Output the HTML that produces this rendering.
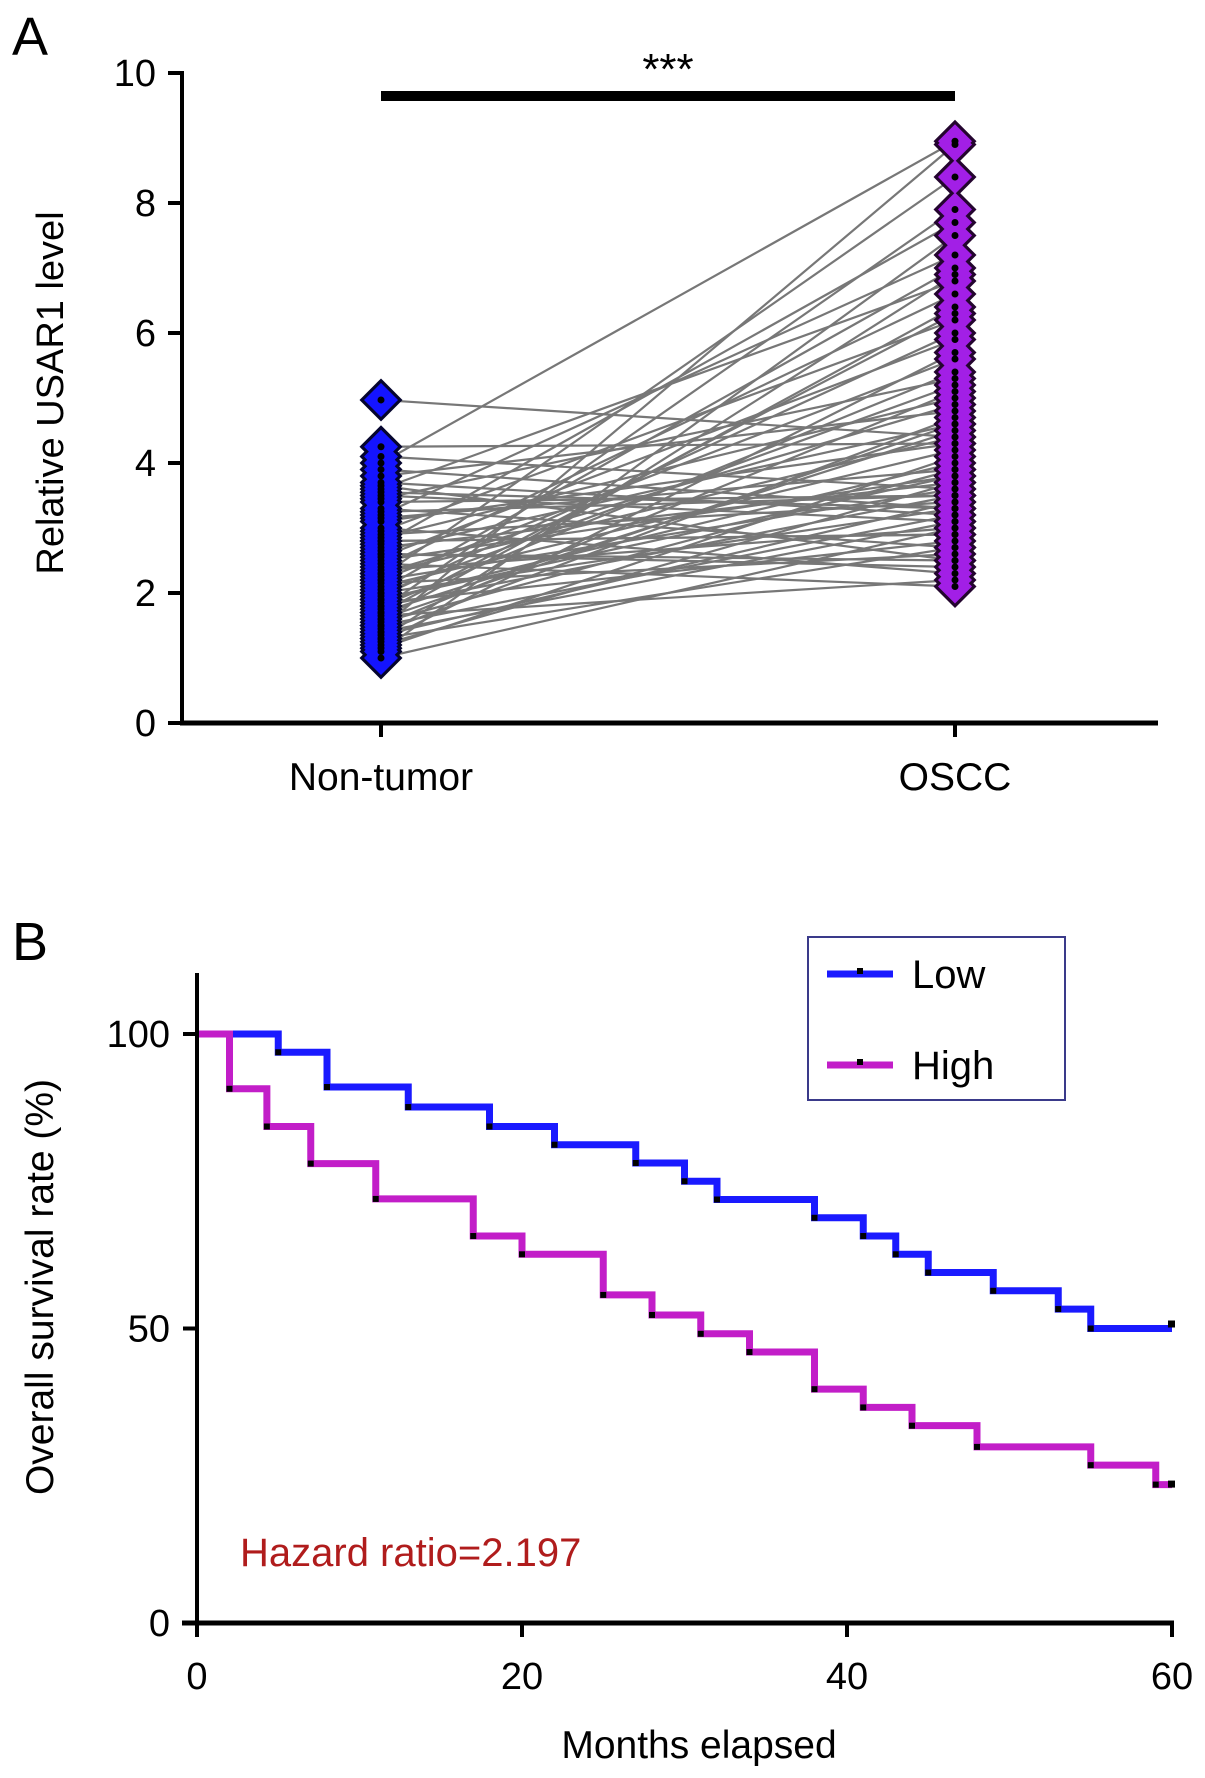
<!DOCTYPE html>
<html><head><meta charset="utf-8"><style>
html,body{margin:0;padding:0;background:#fff;}
svg{display:block;font-family:"Liberation Sans",sans-serif;}
</style></head><body>
<svg id="fig" width="1205" height="1778" viewBox="0 0 1205 1778" xmlns="http://www.w3.org/2000/svg">
<rect width="1205" height="1778" fill="#fff"/>
<g id="panelA"></g>
<g id="panelB"></g>
</svg>
<script>
// ---------- Panel A data ----------
const categoriesA = ["Non-tumor", "OSCC"];
const yTicksA = [0, 2, 4, 6, 8, 10];
const nonTumor = [4.97,4.25,4.1,4.0,3.9,3.8,3.7,3.65,3.6,3.5,3.45,3.4,3.3,3.2,3.15,3.1,3.0,2.95,2.9,2.85,2.8,2.75,2.7,2.65,2.6,2.55,2.5,2.45,2.4,2.35,2.3,2.25,2.2,2.2,2.15,2.1,2.05,2.0,1.95,1.9,1.85,1.8,1.8,1.75,1.7,1.65,1.6,1.55,1.5,1.5,1.45,1.4,1.35,1.3,1.3,1.25,1.2,1.15,1.1,1.0,3.55,2.6,2.3,1.9,1.7,2.8,3.25,2.0,1.6,1.4];
const oscc = [4.4,4.3,3.6,8.95,3.3,4.8,3.2,2.5,6.8,3.1,5.3,3.5,2.7,7.2,3.9,4.3,2.3,6.2,3.4,5.0,2.9,7.7,3.7,4.6,2.4,5.9,3.8,2.1,6.6,3.0,4.9,8.4,3.6,5.6,2.6,4.2,7.0,3.3,6.0,4.0,2.8,5.4,3.5,7.9,4.5,2.2,6.4,3.9,5.1,3.2,8.9,4.7,3.4,6.9,2.7,5.7,3.7,4.1,7.5,3.0,3.3,2.5,4.4,3.8,6.3,2.9,3.5,5.2,4.6,3.1];
// ---------- Panel B data ----------
const xTicksB = [0, 20, 40, 60];
const yTicksB = [0, 50, 100];
const lowTimes = [0,5,8,13,18,22,27,30,32,38,41,43,45,49,53,55];
const lowSurv  = [100,96.9,91,87.6,84.3,81.2,78.1,75,71.9,68.8,65.7,62.6,59.5,56.4,53.3,50];
const highTimes = [0,2,4.3,7,11,17,20,25,28,31,34,38,41,44,48,55,59];
const highSurv  = [100,90.7,84.3,78,72,65.7,62.6,55.7,52.3,49.1,46,39.7,36.6,33.5,29.9,26.8,23.5];
const lowCensor = [60];
const highCensor = [60];

const NS = "http://www.w3.org/2000/svg";
function mk(parent, tag, attrs, text){
  const e = document.createElementNS(NS, tag);
  for (const k in attrs) e.setAttribute(k, attrs[k]);
  if (text !== undefined) e.textContent = text;
  parent.appendChild(e);
  return e;
}

// ---------- Panel A ----------
const A = document.getElementById('panelA');
const yA = v => 723 - v * 65;
const xA = i => [381, 955][i];
let t;
t = mk(A,'text',{x:12,y:55,'font-size':54});
t.textContent='A';



const linesG = mk(A,'g',{});


for (let i=0;i<nonTumor.length;i++){
  const l = mk(linesG,'line',{x1:xA(0),y1:yA(nonTumor[i]),x2:xA(1),y2:yA(oscc[i]),stroke:'#777','stroke-width':2.2});
  
  
}
function dpts(cx, cy, r){ return `${cx},${cy-r} ${cx+r},${cy} ${cx},${cy+r} ${cx-r},${cy}`; }
function column(vals, ci, fill, dark, name){
  const g = mk(A,'g',{});
  
  
  const cx = xA(ci);
  vals.forEach(v=>{
    const p = mk(g,'polygon',{points:dpts(cx,yA(v),21.5),fill:dark});
    
    
  });
  vals.forEach(v=>{
    const p = mk(g,'polygon',{points:dpts(cx,yA(v),17),fill:fill});
    
    
  });
  vals.forEach(v=>{
    mk(g,'circle',{cx:cx,cy:yA(v),r:3.5,fill:'#000'});
  });
}
column(nonTumor, 0, '#1414ff', '#05052e', 'non-tumor-point');
column(oscc, 1, '#a21fe6', '#24052f', 'oscc-point');

const axA = mk(A,'g',{});


mk(axA,'line',{x1:182,y1:yA(10)-2,x2:182,y2:yA(0)+2,stroke:'#000','stroke-width':4});
mk(axA,'line',{x1:180,y1:yA(0),x2:1158,y2:yA(0),stroke:'#000','stroke-width':5});
yTicksA.forEach(v=>{
  mk(axA,'line',{x1:168,y1:yA(v),x2:182,y2:yA(v),stroke:'#000','stroke-width':4});
  t = mk(axA,'text',{x:156,y:yA(v)+13,'font-size':38,'text-anchor':'end'});
  t.textContent = v;
  
  
});
categoriesA.forEach((c,i)=>{
  mk(axA,'line',{x1:xA(i),y1:yA(0),x2:xA(i),y2:yA(0)+14,stroke:'#000','stroke-width':4});
  t = mk(axA,'text',{x:xA(i),y:790,'font-size':39,'text-anchor':'middle'});
  t.textContent = c;
  
  
});
t = mk(axA,'text',{x:0,y:0,'font-size':38,'text-anchor':'middle',transform:'translate(63,393) rotate(-90)'});
t.textContent='Relative USAR1 level';


t = mk(A,'rect',{x:xA(0),y:91,width:xA(1)-xA(0),height:10,fill:'#000'});


t = mk(A,'text',{x:(xA(0)+xA(1))/2,y:84,'font-size':44,'text-anchor':'middle'});
t.textContent='***';



// ---------- Panel B ----------
const B = document.getElementById('panelB');
const xB = m => 197 + m * (1172-197)/60;
const yB = s => 1623 - s * (1623-1034)/100;
t = mk(B,'text',{x:12,y:960,'font-size':54});
t.textContent='B';



function km(times, surv, color, name){
  let d = `M${xB(times[0])},${yB(surv[0])}`;
  for (let i=1;i<times.length;i++){
    d += ` H${xB(times[i])} V${yB(surv[i])}`;
  }
  d += ` H${xB(60)}`;
  const p = mk(B,'path',{d:d,fill:'none',stroke:color,'stroke-width':7,'stroke-linejoin':'miter'});
  
  
  for (let i=1;i<times.length;i++){
    const m = mk(B,'rect',{x:xB(times[i])-3,y:yB(surv[i])-3,width:6,height:6,fill:'#000'});
    
    
  }
}
km(lowTimes, lowSurv, '#1a1aff', 'low-survival-curve');
km(highTimes, highSurv, '#c21ec8', 'high-survival-curve');
lowCensor.forEach(m=>{
  const r = mk(B,'rect',{x:xB(m)-4,y:yB(lowSurv[lowSurv.length-1])-8,width:7,height:7,fill:'#000'});
  
  
});
highCensor.forEach(m=>{
  const r = mk(B,'rect',{x:xB(m)-4,y:yB(highSurv[highSurv.length-1])-4,width:7,height:7,fill:'#000'});
  
  
});

const axB = mk(B,'g',{});


mk(axB,'line',{x1:197,y1:973,x2:197,y2:1625,stroke:'#000','stroke-width':4});
mk(axB,'line',{x1:182,y1:yB(0),x2:1174,y2:yB(0),stroke:'#000','stroke-width':5});
yTicksB.forEach(v=>{
  mk(axB,'line',{x1:183,y1:yB(v),x2:197,y2:yB(v),stroke:'#000','stroke-width':4});
  t = mk(axB,'text',{x:170,y:yB(v)+13,'font-size':38,'text-anchor':'end'});
  t.textContent=v;
  
  
});
xTicksB.forEach(v=>{
  mk(axB,'line',{x1:xB(v),y1:yB(0),x2:xB(v),y2:yB(0)+14,stroke:'#000','stroke-width':4});
  t = mk(axB,'text',{x:xB(v),y:1689,'font-size':38,'text-anchor':'middle'});
  t.textContent=v;
  
  
});
t = mk(axB,'text',{x:699,y:1758,'font-size':39,'text-anchor':'middle'});
t.textContent='Months elapsed';


t = mk(axB,'text',{x:0,y:0,'font-size':39,'text-anchor':'middle',transform:'translate(53,1287) rotate(-90)'});
t.textContent='Overall survival rate (%)';


t = mk(B,'text',{x:240,y:1566,'font-size':40,fill:'#b01c1c'});
t.textContent='Hazard ratio=2.197';



const lg = mk(B,'g',{});


mk(lg,'rect',{x:808,y:937,width:257,height:163,fill:'#fff',stroke:'#3a3a8a','stroke-width':2});
[['Low','#1a1aff',974],['High','#c21ec8',1065]].forEach(([lab,col,y])=>{
  const e = mk(lg,'g',{});
  
  
  mk(e,'line',{x1:827,y1:y,x2:893,y2:y,stroke:col,'stroke-width':7});
  mk(e,'rect',{x:857,y:y-6,width:6,height:6,fill:'#000'});
  mk(e,'text',{x:912,y:y+14,'font-size':40},lab);
});
</script>
</body></html>
